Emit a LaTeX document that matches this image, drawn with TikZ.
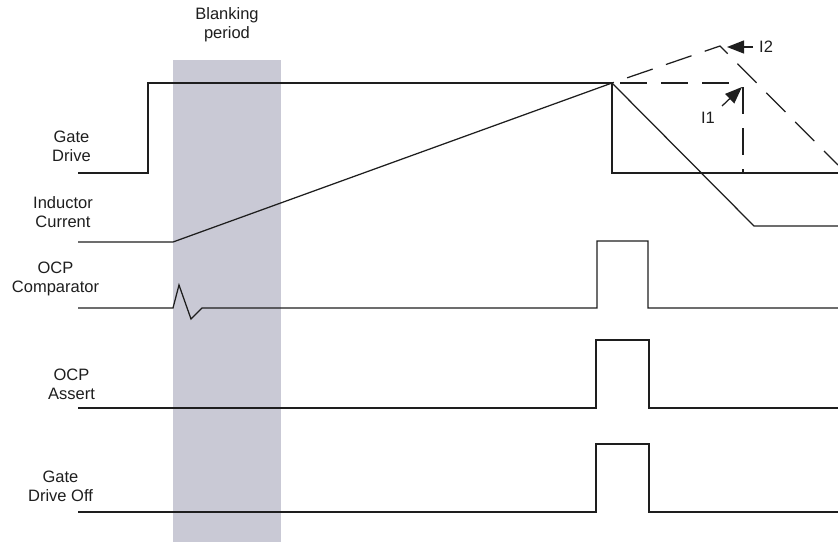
\documentclass[tikz,border=0pt]{standalone}
\usepackage{fontspec}
\setmainfont{Liberation Sans}
\usetikzlibrary{arrows.meta}
\definecolor{blank}{RGB}{201,201,213}
\definecolor{wave}{RGB}{30,30,30}
\tikzset{
  wavel/.style={draw=wave, line width=1.25pt, line join=miter},
  dashl/.style={draw=wave, line width=1.25pt, dash pattern=on 27pt off 14pt, dash phase=-8pt},
  lbl/.style={font=\fontsize{16.5}{19}\selectfont, align=center, inner sep=0pt, text=wave},
  callout/.style={draw=wave, line width=1.25pt, -{Triangle[length=17pt,width=13pt]}},
}
\begin{document}
\begin{tikzpicture}[x=1pt,y=-1pt]
\useasboundingbox (0,0) rectangle (838,542);
% blanking region
\fill[blank] (173,60) rectangle (281,542);
\node[lbl] (blanktxt) at (227,25) {Blanking\\period};
% labels
\node[lbl] (gd) at (71.5,146) {Gate\\Drive};
\node[lbl] (ic) at (63,212) {Inductor\\Current};
\node[lbl] (oc) at (55.5,279) {OCP\\Comparator};
\node[lbl] (oa) at (71.5,384) {OCP\\Assert};
\node[lbl] (gdo) at (60.5,486) {Gate\\Drive Off};
% gate drive
\coordinate (g0) at (78,173);
\coordinate (g1) at (148,173);
\coordinate (g2) at (148,83);
\coordinate (pk) at (612,83);
\coordinate (g3) at (612,173);
\coordinate (g4) at (838,173);
\draw[wavel] (g0) -- (g1) -- (g2) -- (pk) -- (g3) -- (g4);
% inductor current
\coordinate (i0) at (78,242);
\coordinate (i1) at (173,242);
\coordinate (i2) at (754,226);
\coordinate (i3) at (838,226);
\draw[wavel] (i0) -- (i1) -- (pk) -- (i2) -- (i3);
% dashed extensions
\coordinate (d1) at (743,83);
\coordinate (d1a) at (743,87);
\coordinate (d1b) at (743,173);
\coordinate (d2) at (720,46);
\coordinate (d3) at (838,165);
\draw[dashl] (pk) -- (d1);
\draw[dashl, dash phase=0pt] (d1a) -- (d1b);
\draw[dashl, dash phase=-16pt] (pk) -- (d2) -- (d3);
% callouts
\node[lbl, anchor=west] (l2) at (759,47) {I2};
\coordinate (a2t) at (753,47);
\coordinate (a2) at (727,47);
\draw[callout] (a2t) -- (a2);
\node[lbl] (l1) at (708,118) {I1};
\coordinate (a1t) at (722,106);
\coordinate (a1) at (742,87);
\draw[callout] (a1t) -- (a1);
% OCP comparator
\coordinate (c0) at (78,308);
\coordinate (c1) at (173,308);
\coordinate (c2) at (179,285);
\coordinate (c3) at (191,319);
\coordinate (c4) at (202,308);
\coordinate (c5) at (597,308);
\coordinate (c6) at (597,241);
\coordinate (c7) at (648,241);
\coordinate (c8) at (648,308);
\coordinate (c9) at (838,308);
\draw[wavel] (c0) -- (c1) -- (c2) -- (c3) -- (c4) -- (c5) -- (c6) -- (c7) -- (c8) -- (c9);
% OCP assert
\coordinate (o0) at (78,408);
\coordinate (o1) at (596,408);
\coordinate (o2) at (596,340);
\coordinate (o3) at (649,340);
\coordinate (o4) at (649,408);
\coordinate (o5) at (838,408);
\draw[wavel] (o0) -- (o1) -- (o2) -- (o3) -- (o4) -- (o5);
% gate drive off
\coordinate (f0) at (78,512);
\coordinate (f1) at (596,512);
\coordinate (f2) at (596,444);
\coordinate (f3) at (649,444);
\coordinate (f4) at (649,512);
\coordinate (f5) at (838,512);
\draw[wavel] (f0) -- (f1) -- (f2) -- (f3) -- (f4) -- (f5);
\end{tikzpicture}
\end{document}
